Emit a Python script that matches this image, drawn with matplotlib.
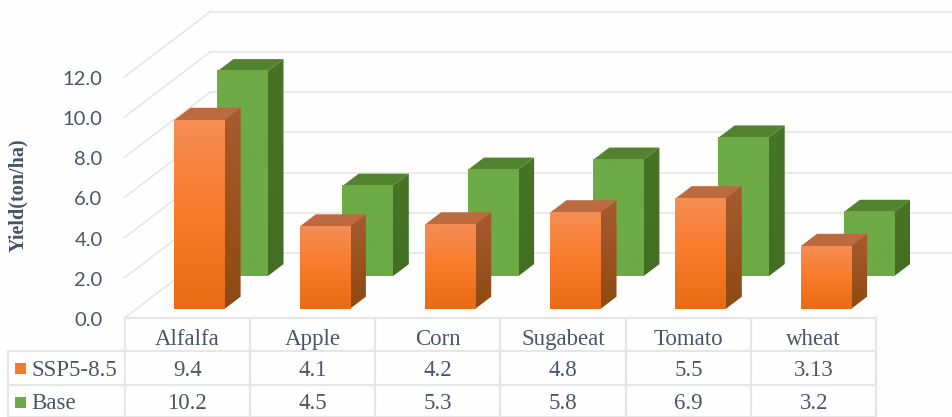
import matplotlib
matplotlib.use('Agg')
import matplotlib.pyplot as plt
from matplotlib.patches import Polygon, Rectangle
import numpy as np

categories = ["Alfalfa", "Apple", "Corn", "Sugabeat", "Tomato", "wheat"]
ssp_values = [9.4, 4.1, 4.2, 4.8, 5.5, 3.13]
base_values = [10.2, 4.5, 5.3, 5.8, 6.9, 3.2]
ssp_labels = ["9.4", "4.1", "4.2", "4.8", "5.5", "3.13"]
base_labels = ["10.2", "4.5", "5.3", "5.8", "6.9", "3.2"]
y_ticks = [0, 2, 4, 6, 8, 10, 12]

# oblique projection: one unit of depth moves this far in x (categories) and y (value)
DEPTH_X = 0.682
DEPTH_Y = 3.23
GRID = "#E6E6E6"
TEXT = "#4A5568"
SERIF = "Liberation Serif"


def project(x, v, d):
  return x + d*DEPTH_X, v + d*DEPTH_Y


def vertGradient(ax, x0, x1, y0, y1, colors, zorder):
  stops = np.linspace(0, 1, len(colors))
  rgb = np.array([matplotlib.colors.to_rgb(c) for c in colors])
  t = np.linspace(0, 1, 64)
  img = np.stack([np.interp(t, stops, rgb[:, k]) for k in range(3)], axis=1)[:, None, :]
  return ax.imshow(img, extent=(x0, x1, y0, y1), aspect="auto", zorder=zorder, interpolation="bilinear")


def drawBar(ax, x, width, value, d0, d1, face, side, roof, zorder):
  xa, ya = project(x, 0, d0)
  xb = xa + width
  xt, yt = project(x, value, d0)
  # roof and right side
  ax.add_patch(Polygon([project(x, value, d0), project(x+width, value, d0), project(x+width, value, d1), project(x, value, d1)], fc=roof, ec="none", zorder=zorder))
  im = vertGradient(ax, xb, xb + (d1-d0)*DEPTH_X, ya, yt + (d1-d0)*DEPTH_Y, side, zorder)
  clip = Polygon([project(x+width, 0, d0), project(x+width, 0, d1), project(x+width, value, d1), project(x+width, value, d0)], fc="none", ec="none", transform=ax.transData)
  ax.add_patch(clip)
  im.set_clip_path(clip)
  # front face
  vertGradient(ax, xa, xb, ya, yt, face, zorder+0.1)


fig = plt.figure(figsize=(9.52, 4.17), dpi=100, facecolor="#FEFEFE")
ax = fig.add_axes([0, 0, 1, 1])
ax.axis("off")

# back wall, side wall
for v in y_ticks:
  bx, by = project(0, v, 1)
  ax.plot([0, bx], [v, by], color=GRID, lw=1.2, zorder=1)
  ax.plot([bx, 7], [by, by], color=GRID, lw=1.2, zorder=1)
  ax.text(-0.175, v-0.12, "%.1f" % v, ha="right", va="center", fontsize=14.5, family="Lato", color=TEXT)

ax.text(-0.85, 6.1, "Yield(ton/ha)", rotation=90, ha="center", va="center", fontsize=14.5, fontweight="bold", family=SERIF, color="#44546A")

for i in range(len(categories)):
  drawBar(ax, i+0.303, 0.4, base_values[i], 0.64, 0.83, ["#6DAB46", "#6DAB46"], ["#477526", "#426D22"], "#53832F", 3)
for i in range(len(categories)):
  drawBar(ax, i+0.303, 0.4, ssp_values[i], 0.138, 0.328, ["#F58D54", "#F97B2A", "#E96B13"], ["#A85B2F", "#8E4A12"], "#BC6A3F", 4)

# data table below the chart
rows = [0, -1.64, -3.33, -4.93]
n = len(categories)
for r, y in enumerate(rows):
  ax.plot([-0.93 if r > 0 else 0, n], [y, y], color=GRID, lw=1.5, zorder=2)
for i in range(n+1):
  ax.plot([i, i], [rows[0], rows[-1]], color=GRID, lw=1.5, zorder=2)
ax.plot([-0.93, -0.93], [rows[1], rows[-1]], color=GRID, lw=1.5, zorder=2)

for i in range(n):
  ax.text(i+0.5, rows[0]-1.08, categories[i], ha="center", va="center", fontsize=16.5, family=SERIF, color=TEXT)
  ax.text(i+0.5, rows[1]-0.95, ssp_labels[i], ha="center", va="center", fontsize=16.5, family=SERIF, color=TEXT)
  ax.text(i+0.5, rows[2]-0.9, base_labels[i], ha="center", va="center", fontsize=16.5, family=SERIF, color=TEXT)

ax.add_patch(Rectangle((-0.875, -2.79), 0.088, 0.55, fc="#F47B28", ec="none", zorder=3))
ax.add_patch(Rectangle((-0.875, -4.48), 0.088, 0.55, fc="#6DAB46", ec="none", zorder=3))
ax.text(-0.74, rows[1]-0.95, "SSP5-8.5", ha="left", va="center", fontsize=16.5, family=SERIF, color=TEXT)
ax.text(-0.74, rows[2]-0.9, "Base", ha="left", va="center", fontsize=16.5, family=SERIF, color=TEXT)

ax.set_xlim(-124.5/125.3, (952-124.5)/125.3)
ax.set_ylim((318-417)/20.1, 318/20.1)

fig.savefig("out.png", dpi=100, facecolor=fig.get_facecolor())
